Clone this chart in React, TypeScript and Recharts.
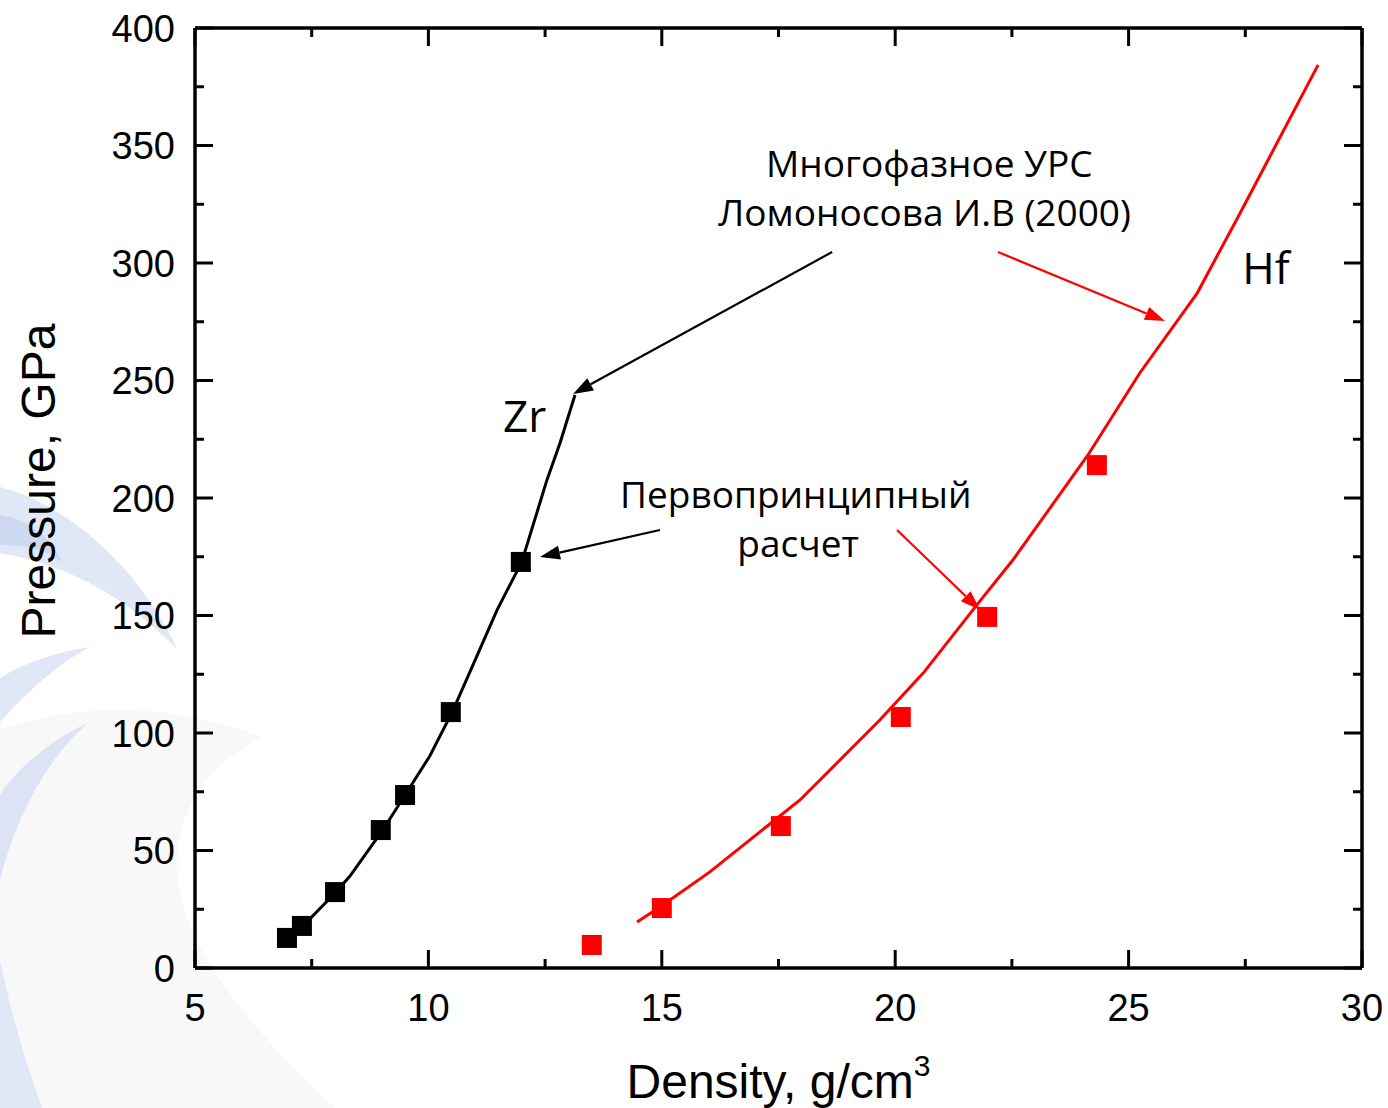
import React from 'react';
import { ComposedChart, Line, Scatter, XAxis, YAxis, ReferenceLine, ReferenceDot } from 'recharts';

// ---- Data ----
// First-principles calculation (squares)
const zrCalcDensity = [6.97, 7.29, 8.0, 8.98, 9.5, 10.48, 11.98];
const zrCalcPressure = [12.8, 17.9, 32.3, 58.7, 73.6, 108.9, 172.8];
const hfCalcDensity = [13.5, 15.0, 17.55, 20.12, 21.97, 24.32];
const hfCalcPressure = [9.8, 25.5, 60.4, 106.8, 149.4, 214.0];

// Multiphase EOS (Lomonosov 2000) curves
const zrEosDensity = [6.99, 7.29, 8.0, 8.32, 9.01, 9.5, 10.03, 10.51, 10.89, 11.47, 12.0, 12.54, 12.82, 13.14];
const zrEosPressure = [12.3, 17.4, 31.9, 39.1, 58.3, 73.6, 90.2, 108.9, 126.0, 152.3, 172.8, 207.7, 223.4, 243.8];
const hfEosDensity = [14.47, 15.0, 16.03, 17.96, 19.67, 20.6, 21.75, 22.52, 24.13, 25.24, 26.47, 27.39, 29.06];
const hfEosPressure = [19.6, 26.5, 40.9, 71.5, 105.5, 125.5, 154.5, 173.6, 218.3, 253.2, 287.2, 321.3, 384.3];

// Axis ticks
const xTicks = [5, 7.5, 10, 12.5, 15, 17.5, 20, 22.5, 25, 27.5, 30];
const yTicks = [0, 25, 50, 75, 100, 125, 150, 175, 200, 225, 250, 275, 300, 325, 350, 375, 400];

// Annotations (data coordinates)
const noteText = ['Многофазное УРС', 'Ломоносова И.В (2000)', 'Zr', 'Hf', 'Первопринципный', 'расчет'];
const noteX = [20.73, 20.63, 11.6, 27.94, 17.87, 17.92];
const noteY = [336.6, 315.7, 228.1, 291.0, 195.7, 174.9];
const noteAnchor = ['middle', 'middle', 'start', 'middle', 'middle', 'middle'];
const noteSize = [37, 37, 44, 44, 37, 37];

const arrowFromX = [18.65, 14.96, 22.2, 20.04];
const arrowFromY = [304.7, 186.4, 304.7, 186.4];
const arrowToX = [13.1, 12.39, 25.78, 21.82];
const arrowToY = [244.3, 174.9, 275.3, 152.3];
const arrowColor = ['#000000', '#000000', '#ff0000', '#ff0000'];

const toPts = (xs: number[], ys: number[]) => xs.map((d, i) => ({ d, p: ys[i] }));
const zrCalc = toPts(zrCalcDensity, zrCalcPressure);
const hfCalc = toPts(hfCalcDensity, hfCalcPressure);
const zrEos = toPts(zrEosDensity, zrEosPressure);
const hfEos = toPts(hfEosDensity, hfEosPressure);

const TICK_FONT = '"Liberation Sans", Arial, sans-serif';
const NOTE_FONT = '"Open Sans", "Noto Sans", sans-serif';
const AXIS_LINE = { stroke: '#000', strokeWidth: 3.5 };

const BottomTick = (props: any) => {
  const { x, y, payload } = props;
  const major = payload.value % 5 === 0;
  return (
    <g>
      <line x1={x} x2={x} y1={y} y2={y - (major ? 18 : 9)} stroke="#000" strokeWidth={3} />
      {major && (
        <text x={x} y={y + 53} textAnchor="middle" fontSize={38} fontFamily={TICK_FONT} fill="#000">
          {payload.value}
        </text>
      )}
    </g>
  );
};
const TopTick = (props: any) => {
  const { x, y, payload } = props;
  const major = payload.value % 5 === 0;
  return <line x1={x} x2={x} y1={y} y2={y + (major ? 18 : 9)} stroke="#000" strokeWidth={3} />;
};
const LeftTick = (props: any) => {
  const { x, y, payload } = props;
  const major = payload.value % 50 === 0;
  return (
    <g>
      <line x1={x} x2={x + (major ? 18 : 9)} y1={y} y2={y} stroke="#000" strokeWidth={3} />
      {major && (
        <text x={x - 20} y={y} dy={13.5} textAnchor="end" fontSize={38} fontFamily={TICK_FONT} fill="#000">
          {payload.value}
        </text>
      )}
    </g>
  );
};
const RightTick = (props: any) => {
  const { x, y, payload } = props;
  const major = payload.value % 50 === 0;
  return <line x1={x} x2={x - (major ? 18 : 9)} y1={y} y2={y} stroke="#000" strokeWidth={3} />;
};

const XLabel = (props: any) => {
  const vb = props.viewBox || {};
  const cx = vb.x + vb.width / 2;
  const y = vb.y + 130;
  return (
    <text x={cx} y={y} textAnchor="middle" fontSize={48} fontFamily={TICK_FONT} fill="#000">
      Density, g/cm
      <tspan fontSize={30} dy={-22}>3</tspan>
    </text>
  );
};
const YLabel = (props: any) => {
  const vb = props.viewBox || {};
  const x = vb.x + 55;
  const y = vb.y + vb.height / 2 - 17;
  return (
    <text x={x} y={y} transform={`rotate(-90 ${x} ${y})`} textAnchor="middle" fontSize={48} fontFamily={TICK_FONT} fill="#000">
      Pressure, GPa
    </text>
  );
};

const square = (color: string) => (props: any) => {
  const { cx, cy } = props;
  if (cx == null || cy == null) return <g />;
  return <rect x={cx - 10} y={cy - 10} width={20} height={20} fill={color} />;
};

const arrowShape = (color: string) => (props: any) => {
  const { x1, y1, x2, y2 } = props;
  if ([x1, y1, x2, y2].some((v) => v == null || isNaN(v))) return <g />;
  const dx = x2 - x1;
  const dy = y2 - y1;
  const len = Math.sqrt(dx * dx + dy * dy) || 1;
  const ux = dx / len;
  const uy = dy / len;
  const hl = 20;
  const hw = 7;
  const bx = x2 - ux * hl;
  const by = y2 - uy * hl;
  const px = -uy;
  const py = ux;
  return (
    <g>
      <line x1={x1} y1={y1} x2={bx} y2={by} stroke={color} strokeWidth={2.2} />
      <polygon points={`${x2},${y2} ${bx + px * hw},${by + py * hw} ${bx - px * hw},${by - py * hw}`} fill={color} />
    </g>
  );
};

const noteShape = (i: number) => (props: any) => {
  const { cx, cy } = props;
  if (cx == null || cy == null) return <g />;
  return (
    <text x={cx} y={cy} textAnchor={noteAnchor[i] as any} fontSize={noteSize[i]} fontFamily={NOTE_FONT} fill="#000">
      {noteText[i]}
    </text>
  );
};

const Background = () => (
  <svg width={1388} height={1108} style={{ position: 'absolute', left: 0, top: 0 }}>
    <path d="M 263 737 C 215 760, 180 800, 177 860 C 175 930, 230 1010, 335 1108 L 0 1108 L 0 730 C 80 700, 180 705, 263 737 Z" fill="#f8f8f8" />
    <path d="M 0 487 C 70 505, 140 570, 178 650 C 130 600, 70 565, 0 553 Z" fill="#e0e7f6" />
    <path d="M 0 515 C 25 518, 50 535, 63 563 C 45 548, 25 545, 0 545 Z" fill="#ccd9f0" />
    <path d="M 90 647 C 55 652, 20 665, 0 678 L 0 722 C 25 695, 55 665, 90 647 Z" fill="#e0e7f6" />
    <path d="M 88 723 C 50 740, 15 770, 0 795 L 0 880 C 15 820, 45 760, 88 723 Z" fill="#dbe3f4" />
    <path d="M 0 960 C 10 1010, 25 1060, 42 1108 L 0 1108 Z" fill="#e0e7f6" />
  </svg>
);

export default function App() {
  return (
    <div style={{ position: 'absolute', left: 0, top: 0, width: 1388, height: 1108, background: '#ffffff' }}>
      <Background />
      <div style={{ position: 'absolute', left: 0, top: 0 }}>
        <ComposedChart width={1388} height={1108} margin={{ top: 27, right: 25, bottom: 0, left: 0 }}>
          <XAxis
            xAxisId="b"
            dataKey="d"
            type="number"
            domain={[5, 30]}
            ticks={xTicks}
            interval={0}
            allowDataOverflow
            height={140}
            axisLine={AXIS_LINE}
            tickLine={false}
            tickSize={0}
            tickMargin={0}
            tick={<BottomTick />}
            label={<XLabel />}
          />
          <XAxis
            xAxisId="t"
            orientation="top"
            dataKey="d"
            type="number"
            domain={[5, 30]}
            ticks={xTicks}
            interval={0}
            allowDataOverflow
            height={1}
            axisLine={AXIS_LINE}
            tickLine={false}
            tickSize={0}
            tickMargin={0}
            tick={<TopTick />}
          />
          <YAxis
            yAxisId="l"
            dataKey="p"
            type="number"
            domain={[0, 400]}
            ticks={yTicks}
            interval={0}
            allowDataOverflow
            width={195}
            axisLine={AXIS_LINE}
            tickLine={false}
            tickSize={0}
            tickMargin={0}
            tick={<LeftTick />}
            label={<YLabel />}
          />
          <YAxis
            yAxisId="r"
            orientation="right"
            dataKey="p"
            type="number"
            domain={[0, 400]}
            ticks={yTicks}
            interval={0}
            allowDataOverflow
            width={1}
            axisLine={AXIS_LINE}
            tickLine={false}
            tickSize={0}
            tickMargin={0}
            tick={<RightTick />}
          />
          <Line xAxisId="t" yAxisId="r" data={hfEos} dataKey="p" type="linear" stroke="none" dot={false} activeDot={false} isAnimationActive={false} />
          <Line xAxisId="b" yAxisId="l" data={zrEos} dataKey="p" type="linear" stroke="#000" strokeWidth={3} dot={false} isAnimationActive={false} />
          <Line xAxisId="b" yAxisId="l" data={hfEos} dataKey="p" type="linear" stroke="#ff0000" strokeWidth={3} dot={false} isAnimationActive={false} />
          <Scatter xAxisId="b" yAxisId="l" data={zrCalc} dataKey="p" shape={square('#000000')} isAnimationActive={false} />
          <Scatter xAxisId="b" yAxisId="l" data={hfCalc} dataKey="p" shape={square('#ff0000')} isAnimationActive={false} />
          {arrowFromX.map((_, i) => (
            <ReferenceLine
              key={'a' + i}
              xAxisId="b"
              yAxisId="l"
              segment={[{ x: arrowFromX[i], y: arrowFromY[i] }, { x: arrowToX[i], y: arrowToY[i] }]}
              ifOverflow="visible"
              shape={arrowShape(arrowColor[i])}
            />
          ))}
          {noteText.map((_, i) => (
            <ReferenceDot
              key={'n' + i}
              xAxisId="b"
              yAxisId="l"
              x={noteX[i]}
              y={noteY[i]}
              r={0}
              ifOverflow="visible"
              shape={noteShape(i)}
            />
          ))}
        </ComposedChart>
      </div>
    </div>
  );
}
